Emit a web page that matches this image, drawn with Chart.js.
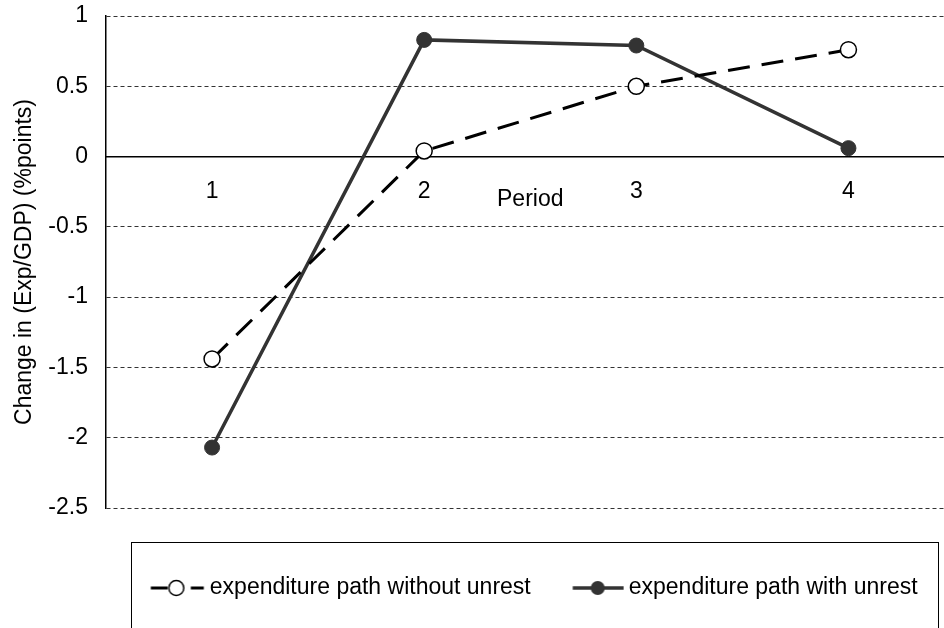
<!DOCTYPE html>
<html>
<head>
<meta charset="utf-8">
<script src="https://cdn.jsdelivr.net/npm/chart.js@4.4.1/dist/chart.umd.min.js"></script>
<style>
  html, body { margin: 0; padding: 0; background: #fff; overflow: hidden; }
  .chart-box { position: relative; width: 964px; height: 628px; }
</style>
</head>
<body>
<div class="chart-box"><canvas id="exp-chart"></canvas></div>
<script>
// DATA
const periods = ["1", "2", "3", "4"];
const withoutUnrest = [-1.44, 0.04, 0.5, 0.76];
const withUnrest = [-2.07, 0.83, 0.79, 0.06];
const seriesNames = ["expenditure path without unrest", "expenditure path with unrest"];
const yAxisTitle = "Change in (Exp/GDP) (%points)";
const xAxisTitle = "Period";

Chart.defaults.font.family = '"Liberation Sans", Arial, sans-serif';
Chart.defaults.font.size = 23;
Chart.defaults.color = "#000";

// legend icons: line sample with marker, drawn on small canvases
function makeIcon(drawFn) {
  const c = document.createElement("canvas");
  c.width = 70;
  c.height = 24;
  const g = c.getContext("2d");
  drawFn(g, 35, 12);
  return c;
}

const iconWithout = makeIcon((g, cx, cy) => {
  g.strokeStyle = "#000";
  g.lineWidth = 3;
  g.beginPath();
  g.moveTo(cx - 19.75, cy);
  g.lineTo(cx - 3, cy);
  g.moveTo(cx + 20.25, cy);
  g.lineTo(cx + 33.25, cy);
  g.stroke();
  g.beginPath();
  g.arc(cx + 5.75, cy, 7.5, 0, Math.PI * 2);
  g.fillStyle = "#fff";
  g.fill();
  g.lineWidth = 1.5;
  g.stroke();
});

const iconWith = makeIcon((g, cx, cy) => {
  g.strokeStyle = "#333";
  g.lineWidth = 3.5;
  g.beginPath();
  g.moveTo(cx - 16.75, cy);
  g.lineTo(cx + 34.25, cy);
  g.stroke();
  g.beginPath();
  g.arc(cx + 8.25, cy, 7, 0, Math.PI * 2);
  g.fillStyle = "#333";
  g.fill();
});

const legendIcons = [iconWithout, iconWith];

// frame round the legend
const legendFrame = {
  id: "legendFrame",
  afterDraw(chart) {
    const lg = chart.legend;
    const area = chart.chartArea;
    const ctx = chart.ctx;
    ctx.save();
    ctx.strokeStyle = "#000";
    ctx.lineWidth = 1;
    ctx.strokeRect(area.left + 25.5, lg.top + 34.5, 807, 120);
    ctx.restore();
  },
};

const ctx = document.getElementById("exp-chart");

new Chart(ctx, {
  type: "line",
  data: {
    labels: periods,
    datasets: [
      {
        label: seriesNames[0],
        data: withoutUnrest,
        borderColor: "#000",
        borderWidth: 3,
        borderDash: [22, 12],
        pointRadius: 8,
        pointBackgroundColor: "#fff",
        pointBorderColor: "#000",
        pointBorderWidth: 1.5,
        tension: 0,
      },
      {
        label: seriesNames[1],
        data: withUnrest,
        borderColor: "#333",
        borderWidth: 3.5,
        pointRadius: 7.5,
        pointBackgroundColor: "#333",
        pointBorderColor: "#333",
        pointBorderWidth: 1,
        tension: 0,
      },
    ],
  },
  options: {
    responsive: true,
    maintainAspectRatio: false,
    animation: false,
    layout: {
      padding: { top: 16, right: 6, bottom: 18.5, left: 0 },
    },
    scales: {
      x: {
        type: "category",
        offset: true,
        position: { y: 0 },
        grid: { display: true, color: "rgba(0,0,0,0)", drawTicks: false },
        border: { display: true, color: "#000", width: 1.5 },
        ticks: { padding: 21.2, maxRotation: 0 },
        title: {
          display: true,
          text: xAxisTitle,
          padding: { top: -41, bottom: 0 },
        },
      },
      y: {
        min: -2.5,
        max: 1,
        afterFit: (scale) => {
          scale.width = 106;
          // tick padding should only push labels sideways
          scale.paddingTop = 0;
          scale.paddingBottom = 0;
        },
        ticks: {
          stepSize: 0.5,
          padding: 18,
          callback: (value) => String(value),
        },
        grid: {
          drawTicks: false,
          lineWidth: 1,
          color: (c) => (c.tick && c.tick.value === 0 ? "rgba(0,0,0,0)" : "#333"),
        },
        border: { display: true, color: "#000", width: 1.5, dash: [4, 3] },
        title: {
          display: true,
          text: yAxisTitle,
          padding: { top: 11.2, bottom: 9.5 },
        },
      },
    },
    plugins: {
      tooltip: { enabled: false },
      legend: {
        position: "bottom",
        fullSize: false,
        title: {
          display: true,
          text: " ",
          font: { size: 2 },
          padding: { top: 17.55, bottom: 17.55 },
        },
        labels: {
          usePointStyle: true,
          pointStyleWidth: 55.5,
          padding: 31,
          generateLabels: (chart) => {
            const items = Chart.defaults.plugins.legend.labels.generateLabels(chart);
            items.forEach((item, i) => {
              item.pointStyle = legendIcons[i];
            });
            return items;
          },
        },
      },
    },
  },
  plugins: [legendFrame],
});
</script>
</body>
</html>
